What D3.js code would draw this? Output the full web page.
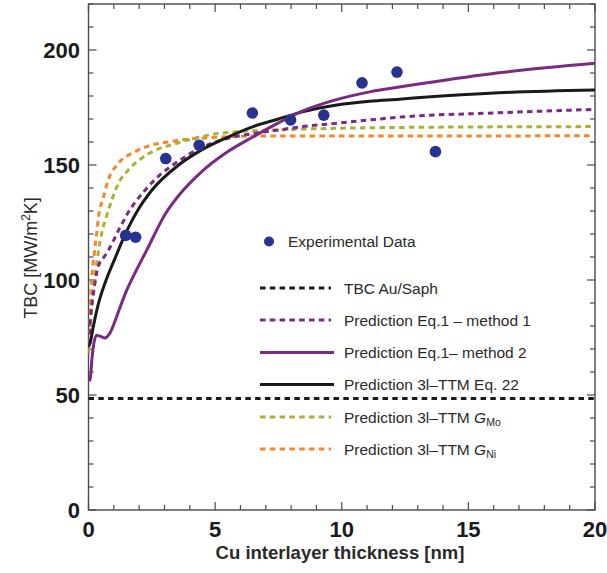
<!DOCTYPE html>
<html><head><meta charset="utf-8">
<script src="https://cdn.jsdelivr.net/npm/d3@7"></script>
<style>body{margin:0;background:#fff}svg{display:block}text{font-family:"Liberation Sans",Arial,sans-serif}</style>
</head><body><svg id="c" width="607" height="573"></svg>
<script>
// Experimental data
const expX = [1.47, 1.86, 3.05, 4.37, 6.47, 7.98, 9.29, 10.8, 12.18, 13.7];
const expY = [119.4, 118.6, 152.8, 158.6, 172.6, 169.6, 171.7, 185.7, 190.4, 155.8];
// TBC Au/Saph constant
const tbcAuSaph = 48.5;
// Prediction Eq.1 - method 1 (purple dashed)
const m1X = [0, 0.1, 0.22, 0.33, 0.45, 0.6, 0.8, 1.0, 1.19, 1.36, 1.55, 2.23, 2.8, 3.4, 4.35, 5.4, 6.6, 7.5, 8.44, 9.75, 11.1, 12.27, 16.2, 20];
const m1Y = [72, 86, 96, 103.6, 107.7, 109.8, 113.2, 117.4, 121.7, 125.2, 129, 139, 145.5, 150.5, 157, 161.3, 163.8, 165.2, 166.7, 168.1, 169.6, 170.8, 172.7, 174.2];
// Prediction Eq.1 - method 2 (purple solid)
const m2X = [0.04, 0.09, 0.13, 0.19, 0.32, 0.45, 0.65, 0.85, 1.11, 1.31, 1.51, 1.71, 2.3, 3.05, 3.62, 4.41, 5.46, 6.51, 7.5, 8.44, 9.75, 11.1, 12.27, 13.1, 16.2, 20];
const m2Y = [56, 59, 65, 71, 76, 75.6, 74.8, 77, 84, 90, 95.6, 100.3, 113, 129, 137.5, 146.5, 155.5, 162.3, 168.3, 173.4, 178.3, 181.8, 183.9, 185.3, 190.1, 194.2];
// Prediction 3l-TTM Eq. 22 (black)
const ttmX = [0, 0.06, 0.19, 0.32, 0.45, 0.65, 1.05, 1.44, 1.71, 1.9, 2.5, 3.56, 4.35, 5.4, 6.5, 7.5, 8.49, 9.81, 11.1, 12.27, 13.1, 16.2, 20];
const ttmY = [71, 72.5, 79.7, 86.5, 92, 98.6, 109.5, 119.6, 125.7, 129.5, 139, 150, 155.8, 161.6, 166.7, 170, 173.2, 176.1, 177.7, 178.6, 179.3, 181.4, 182.6];
// Prediction 3l-TTM G_Mo (yellow-green dashed)
const moX = [0, 0.19, 0.29, 0.39, 0.52, 0.72, 0.92, 1.18, 1.57, 2.1, 2.76, 3.35, 3.8, 4.74, 5.93, 7.3, 10, 13, 20];
const moY = [68, 95.6, 104.3, 112.3, 120.3, 128, 134.8, 142, 147.8, 152.9, 157, 159, 160.5, 163, 164.5, 165.2, 166, 166.4, 166.7];
// Prediction 3l-TTM G_Ni (orange dashed)
const niX = [0, 0.1, 0.15, 0.23, 0.32, 0.39, 0.59, 0.78, 1.18, 1.84, 2.5, 3.15, 3.62, 4.41, 5.46, 7, 10, 20];
const niY = [68, 95.6, 103.6, 111.6, 120, 127, 136, 143.5, 150.7, 155.8, 158.7, 160, 160.9, 161.6, 162.3, 162.6, 162.6, 162.7];

const xTicks = [0, 5, 10, 15, 20];
const yTicks = [0, 50, 100, 150, 200];

const svg = d3.select("#c");
const L = 88.5, R = 595, T = 4, B = 510;
const x = d3.scaleLinear().domain([0, 20]).range([L, R]);
const y = d3.scaleLinear().domain([0, 220]).range([B, T]);

svg.append("clipPath").attr("id", "clip").append("rect")
  .attr("x", L).attr("y", T).attr("width", R - L).attr("height", B - T);

const frameColor = "#4a4a4a";
// ticks
const g = svg.append("g");
const minorX = d3.range(0, 20.01, 1), minorY = d3.range(0, 220.01, 10);
minorX.forEach(v => {
  const len = v % 5 === 0 ? 8 : 5;
  g.append("line").attr("x1", x(v)).attr("x2", x(v)).attr("y1", B).attr("y2", B - len).attr("stroke", frameColor).attr("stroke-width", 1.2);
  g.append("line").attr("x1", x(v)).attr("x2", x(v)).attr("y1", T).attr("y2", T + len).attr("stroke", frameColor).attr("stroke-width", 1.2);
});
minorY.forEach(v => {
  const len = v % 50 === 0 ? 8 : 5;
  g.append("line").attr("y1", y(v)).attr("y2", y(v)).attr("x1", L).attr("x2", L + len).attr("stroke", frameColor).attr("stroke-width", 1.2);
  g.append("line").attr("y1", y(v)).attr("y2", y(v)).attr("x1", R).attr("x2", R - len).attr("stroke", frameColor).attr("stroke-width", 1.2);
});
svg.append("rect").attr("x", L).attr("y", T).attr("width", R - L).attr("height", B - T)
  .attr("fill", "none").attr("stroke", frameColor).attr("stroke-width", 1.4);

// tick labels
xTicks.forEach(v => svg.append("text").attr("x", x(v)).attr("y", 537).attr("text-anchor", "middle")
  .attr("font-size", 22).attr("font-weight", "bold").attr("fill", "#1a1a1a").text(v));
yTicks.forEach(v => svg.append("text").attr("x", 80).attr("y", y(v) + 8).attr("text-anchor", "end")
  .attr("font-size", 22).attr("font-weight", "bold").attr("fill", "#1a1a1a").text(v));

// axis titles
svg.append("text").attr("x", 340).attr("y", 559).attr("text-anchor", "middle")
  .attr("font-size", 18.5).attr("font-weight", "bold").attr("fill", "#2a2a2a").text("Cu interlayer thickness [nm]");
svg.append("text").attr("transform", "translate(37,258) rotate(-90)").attr("text-anchor", "middle")
  .attr("font-size", 18).attr("fill", "#2a2a2a")
  .call(t => { t.append("tspan").text("TBC [MW/m"); t.append("tspan").attr("font-size", 12).attr("dy", -7).text("2"); t.append("tspan").attr("dy", 7).text("K]"); });

const plot = svg.append("g").attr("clip-path", "url(#clip)");
const line = d3.line().x(d => x(d[0])).y(d => y(d[1])).curve(d3.curveMonotoneX);
const zip = (a, b) => a.map((v, i) => [v, b[i]]);

const dash = "5.5,4.3";
const series = [
  { xs: niX, ys: niY, color: "#f7862a", dash: dash },
  { xs: moX, ys: moY, color: "#a9b036", dash: dash },
  { xs: m1X, ys: m1Y, color: "#7a2a82", dash: dash },
  { xs: ttmX, ys: ttmY, color: "#1a1a1a", dash: null },
  { xs: m2X, ys: m2Y, color: "#7a2a82", dash: null }
];
// horizontal TBC Au/Saph
plot.append("line").attr("x1", L).attr("x2", R).attr("y1", y(tbcAuSaph)).attr("y2", y(tbcAuSaph))
  .attr("stroke", "#1a1a1a").attr("stroke-width", 3).attr("stroke-dasharray", dash);

series.forEach(s => {
  plot.append("path").attr("d", line(zip(s.xs, s.ys))).attr("fill", "none")
    .attr("stroke", s.color).attr("stroke-width", 3).attr("stroke-dasharray", s.dash);
});

// experimental points
plot.selectAll("circle.exp").data(zip(expX, expY)).join("circle").attr("class", "exp")
  .attr("cx", d => x(d[0])).attr("cy", d => y(d[1])).attr("r", 5.8).attr("fill", "#27348f");

// legend
const lg = svg.append("g");
lg.append("circle").attr("cx", 269).attr("cy", 241.5).attr("r", 5).attr("fill", "#27348f");
lg.append("text").attr("x", 288).attr("y", 247).attr("font-size", 15.5).attr("fill", "#2a2a2a").text("Experimental Data");
const rows = [
  { color: "#1a1a1a", dash: dash, label: "TBC Au/Saph", y: 288 },
  { color: "#7a2a82", dash: dash, label: "Prediction Eq.1 \u2013 method 1", y: 320 },
  { color: "#7a2a82", dash: null, label: "Prediction Eq.1\u2013 method 2", y: 352.5 },
  { color: "#1a1a1a", dash: null, label: "Prediction 3l\u2013TTM Eq. 22", y: 384.5 },
  { color: "#a9b036", dash: dash, label: ["Prediction 3l\u2013TTM ", "Mo"], y: 417 },
  { color: "#f7862a", dash: dash, label: ["Prediction 3l\u2013TTM ", "Ni"], y: 449 }
];
rows.forEach(r => {
  lg.append("line").attr("x1", 260).attr("x2", r.dash ? 331 : 334).attr("y1", r.y).attr("y2", r.y)
    .attr("stroke", r.color).attr("stroke-width", 3).attr("stroke-dasharray", r.dash);
  const t = lg.append("text").attr("x", 344).attr("y", r.y + 5.5).attr("font-size", 15.5).attr("fill", "#2a2a2a");
  if (Array.isArray(r.label)) {
    t.append("tspan").text(r.label[0]);
    t.append("tspan").attr("font-style", "italic").text("G");
    t.append("tspan").attr("font-size", 10.5).attr("dy", 3.5).text(r.label[1]);
  } else t.text(r.label);
});
</script></body></html>
